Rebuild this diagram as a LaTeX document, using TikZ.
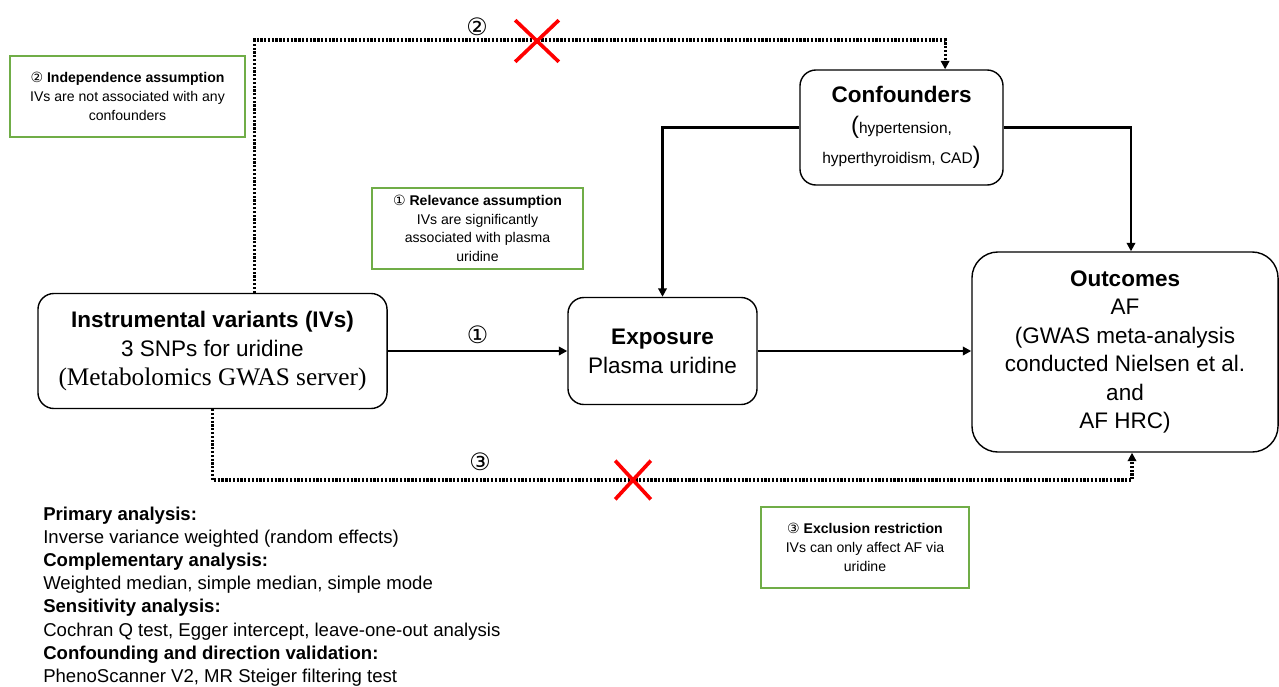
\documentclass[tikz,border=0pt]{standalone}
\usepackage{fontspec}
\setmainfont{Liberation Sans}
\newfontfamily\timesfont{Liberation Serif}
\newfontfamily\circfont{DejaVu Sans}
\usetikzlibrary{arrows.meta,shapes.misc}
\definecolor{assumgreen}{RGB}{112,173,71}
\definecolor{crossred}{RGB}{255,0,0}
\tikzset{
  box/.style={draw,line width=1pt,rounded corners=0.4cm,align=center,inner sep=2pt},
  assum/.style={draw=assumgreen,line width=1.2pt,align=center,minimum height=2.025cm,
    inner sep=2pt,font=\fontsize{10}{13.3}\selectfont},
  conn/.style={line width=2pt,-{Triangle[length=6pt,width=6pt]}},
  dotconn/.style={line width=2.2pt,dash pattern=on 1.6pt off 1.1pt,-{Triangle[length=6pt,width=6pt]}},
  nocross/.style={draw=crossred,cross out,line width=2.6pt,inner sep=0pt},
  numlabel/.style={font=\circfont\fontsize{17}{17}\selectfont,inner sep=0pt}
}
\begin{document}
\begin{tikzpicture}[x=0.025cm,y=-0.025cm]
  \useasboundingbox (0,0) rectangle (1279,686);

  % main boxes
  \node[box,minimum width=8.725cm,minimum height=2.875cm,font=\fontsize{16}{20.6}\selectfont] (iv) at (212.5,351)
    {\textbf{Instrumental variants (IVs)}\\3 SNPs for uridine\\{\timesfont\fontsize{18}{20.6}\selectfont(Metabolomics GWAS server)}};
  \node[box,minimum width=4.725cm,minimum height=2.675cm,font=\fontsize{16}{20.6}\selectfont] (expo) at (662.5,351)
    {\textbf{Exposure}\\Plasma uridine};
  \node[box,minimum width=5.075cm,minimum height=2.875cm,font=\fontsize{11}{21.5}\selectfont] (conf) at (901.5,127.5)
    {{\bfseries\fontsize{16}{21.5}\selectfont Confounders}\\{\fontsize{17}{21.5}\selectfont(}hypertension,\\hyperthyroidism, CAD{\fontsize{17}{21.5}\selectfont)}};
  \node[box,rounded corners=0.65cm,minimum width=7.65cm,minimum height=5cm,font=\fontsize{16}{20.3}\selectfont] (outc) at (1125,352)
    {\textbf{Outcomes}\\AF\\(GWAS meta-analysis\\conducted Nielsen et al.\\and\\AF HRC)};

  % assumptions
  \node[assum,minimum width=5.875cm] (indep) at (127.5,96.5)
    {{\circfont ②} \textbf{Independence assumption}\\IVs are not associated with any\\confounders};
  \node[assum,minimum width=5.275cm] (relev) at (477.5,228.5)
    {{\circfont ①} \textbf{Relevance assumption}\\IVs are significantly\\associated with plasma\\uridine};
  \node[assum,minimum width=5.2cm] (exclu) at (865,547.5)
    {{\circfont ③} \textbf{Exclusion restriction}\\IVs can only affect AF via\\uridine};

  % solid paths
  \draw[conn] (iv.east) -- (iv.east -| expo.west) node[numlabel,midway,above=4pt] (n1) {①};
  \draw[conn] (expo.east) -- (expo.east -| outc.west);
  \draw[conn] (conf.west) -| (expo.north);
  \draw[conn] (conf.east) -| ([xshift=0.15cm]outc.north);

  % dotted paths
  \coordinate (toprail) at (600,40);
  \coordinate (botrail) at (600,480);
  \draw[dotconn] ([xshift=1.06cm]iv.north) |- (toprail) -| ([xshift=1.09cm]conf.north);
  \draw[dotconn] (iv.south) |- (botrail) -| ([xshift=0.175cm]outc.south);
  \node[numlabel] (n2) at (477,27) {②};
  \node[numlabel] (n3) at (480,462) {③};
  \node[nocross,minimum width=1cm,minimum height=0.95cm] (x2) at (537,41) {};
  \node[nocross,minimum width=0.8cm,minimum height=0.875cm] (x3) at (633,480) {};

  % methods
  \node[anchor=north west,align=left,inner sep=0pt,font=\fontsize{13.2}{16.4}\selectfont] (methods) at (43,507)
    {\textbf{Primary analysis:}\\Inverse variance weighted (random effects)\\
     \textbf{Complementary analysis:}\\Weighted median, simple median, simple mode\\
     \textbf{Sensitivity analysis:}\\Cochran Q test, Egger intercept, leave-one-out analysis\\
     \textbf{Confounding and direction validation:}\\PhenoScanner V2, MR Steiger filtering test};
\end{tikzpicture}
\end{document}
